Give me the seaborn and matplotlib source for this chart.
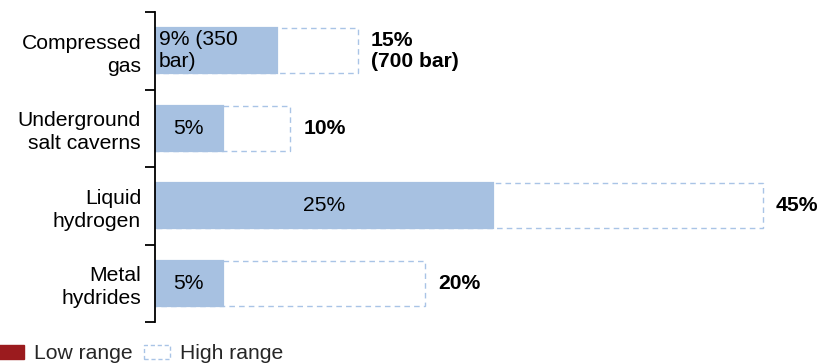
import matplotlib
matplotlib.use("Agg")
import matplotlib.pyplot as plt
from matplotlib.patches import Patch
import seaborn as sns
import pandas as pd

categories = ["Compressed\ngas", "Underground\nsalt caverns", "Liquid\nhydrogen", "Metal\nhydrides"]
low_values = [9, 5, 25, 5]
high_values = [15, 10, 45, 20]
low_labels = ["9% (350\nbar)", "5%", "25%", "5%"]
high_labels = ["15%\n(700 bar)", "10%", "45%", "20%"]

LOW_COLOR = "#a7c1e1"
EDGE_COLOR = "#a9c4e6"
LEGEND_RED = "#9b1b1e"
FS = 15.2

sns.set_theme(style="white")
plt.rcParams["font.family"] = ["Liberation Sans", "DejaVu Sans"]

df = pd.DataFrame({"category": categories, "low": low_values, "high": high_values})

fig = plt.figure(figsize=(8.3, 3.63), dpi=100)
ax = fig.add_axes([155 / 830, 41 / 363, 675 / 830, 310 / 363])

sns.barplot(data=df, y="category", x="high", orient="h", color="white",
            edgecolor=EDGE_COLOR, linewidth=1.0, linestyle=(0, (4, 3)),
            width=0.58, saturation=1, ax=ax)
sns.barplot(data=df, y="category", x="low", orient="h", color=LOW_COLOR,
            edgecolor=LOW_COLOR, linewidth=1.6, width=0.58, saturation=1, ax=ax)

ax.set_xlim(0, 50)
ax.set_ylim(3.5, -0.5)
ax.set_xlabel("")
ax.set_ylabel("")
ax.set_xticks([])
for s in ["top", "right", "bottom"]:
    ax.spines[s].set_visible(False)
ax.spines["left"].set_color("black")
ax.spines["left"].set_linewidth(1.3)

# boundary ticks (major) and category labels (minor)
ax.set_yticks([-0.5, 0.5, 1.5, 2.5, 3.5])
ax.set_yticklabels([])
ax.tick_params(axis="y", which="major", length=7, width=1.3, color="black", left=True, direction="out")
ax.set_yticks(range(len(categories)), minor=True)
ax.set_yticklabels(categories, minor=True, fontsize=FS, ha="right", ma="right", color="black",
                   linespacing=1.27)
ax.tick_params(axis="y", which="minor", length=0, pad=10)

for i, (lo, hi, ll, hl) in enumerate(zip(low_values, high_values, low_labels, high_labels)):
    if "\n" in ll:
        ax.text(0.3, i, ll, ha="left", va="center", fontsize=FS, color="black", linespacing=1.2)
    else:
        ax.text(lo / 2, i, ll, ha="center", va="center", fontsize=FS, color="black")
    ax.text(hi + 1.0, i, hl, ha="left", va="center", fontsize=FS, fontweight="bold",
            color="black", linespacing=1.15)

handles = [Patch(facecolor=LEGEND_RED, edgecolor=LEGEND_RED, label="Low range"),
           Patch(facecolor="white", edgecolor=EDGE_COLOR, linestyle=(0, (3, 2)), label="High range")]
fig.legend(handles=handles, loc="lower left", bbox_to_anchor=(-0.002, -0.001), ncol=2,
           frameon=False, fontsize=FS, handlelength=1.2, handleheight=0.7,
           handletextpad=0.5, columnspacing=0.55, borderaxespad=0, borderpad=0)

fig.savefig("out.png", dpi=100)
